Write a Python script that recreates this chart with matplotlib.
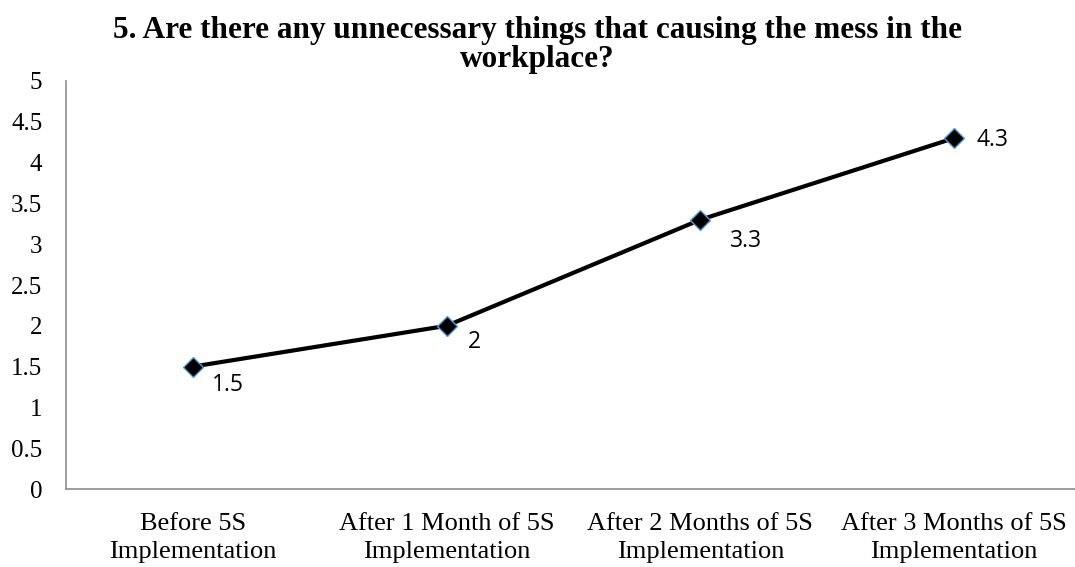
import matplotlib
matplotlib.use("Agg")
import matplotlib.pyplot as plt

title = "5. Are there any unnecessary things that causing the mess in the\nworkplace?"
categories = [
    "Before 5S\nImplementation",
    "After 1 Month of 5S\nImplementation",
    "After 2 Months of 5S\nImplementation",
    "After 3 Months of 5S\nImplementation",
]
scores = [1.5, 2.0, 3.3, 4.3]
score_labels = ["1.5", "2", "3.3", "4.3"]
y_ticks = [0, 0.5, 1, 1.5, 2, 2.5, 3, 3.5, 4, 4.5, 5]

fig = plt.figure(figsize=(10.75, 5.67), dpi=100)
ax = fig.add_axes([66 / 1075, 1 - 489 / 567, (1081 - 66) / 1075, (489 - 81) / 567])

x = list(range(len(categories)))
ax.plot(x, scores, color="black", linewidth=3.0, marker="D", markersize=10,
        markerfacecolor="black", markeredgecolor="#5B9BD5", markeredgewidth=1.0,
        zorder=3, clip_on=False)

# value labels sit just right of / below each point
label_offsets = [(14, -13), (15, -12), (21, -15), (16, -1)]
for xi, yi, txt, off in zip(x, scores, score_labels, label_offsets):
    ax.annotate(txt, (xi, yi), xytext=off, textcoords="offset points",
                ha="left", va="center", fontsize=16.5, family="Open Sans",
                color="black")

ax.set_xlim(-0.5, len(categories) - 0.5)
ax.set_ylim(0, 5)
ax.set_yticks(y_ticks)
ax.set_yticklabels([f"{t:g}" for t in y_ticks], family="Liberation Serif", fontsize=18)
ax.set_xticks(x)
ax.set_xticklabels(categories, family="Liberation Serif", fontsize=19, linespacing=1.38)
ax.tick_params(axis="both", length=0, colors="black")
ax.tick_params(axis="x", pad=17)
ax.tick_params(axis="y", pad=17)

for side in ["top", "right"]:
    ax.spines[side].set_visible(False)
for side in ["left", "bottom"]:
    ax.spines[side].set_color("#8C8C8C")
    ax.spines[side].set_linewidth(1.2)

fig.text(0.5, 1 - 45 / 567, title, ha="center", va="center",
         family="Liberation Serif", fontweight="bold", fontsize=22.5, linespacing=1.03)

fig.savefig("out.png", dpi=100)
